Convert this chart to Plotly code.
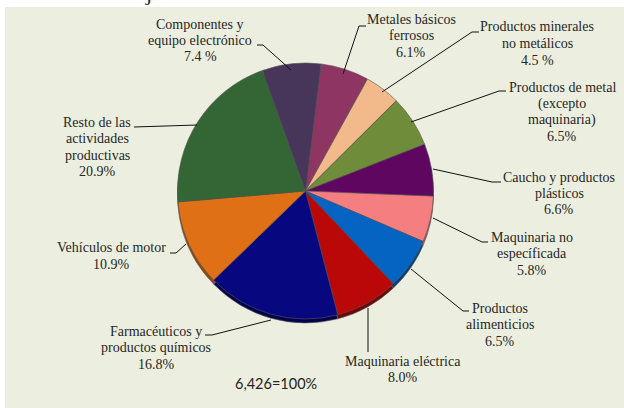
import plotly.graph_objects as go

categories = ["Metales básicos ferrosos", "Productos minerales no metálicos",
              "Productos de metal (excepto maquinaria)", "Caucho y productos plásticos",
              "Maquinaria no específicada", "Productos alimenticios",
              "Maquinaria eléctrica", "Farmacéuticos y productos químicos",
              "Vehículos de motor", "Resto de las actividades productivas",
              "Componentes y equipo electrónico"]
values = [6.1, 4.5, 6.5, 6.6, 5.8, 6.5, 8.0, 16.8, 10.9, 20.9, 7.4]
value_texts = ["6.1%", "4.5 %", "6.5%", "6.6%", "5.8%", "6.5%", "8.0%", "16.8%", "10.9%", "20.9%", "7.4 %"]
label_lines = [["Metales básicos", "ferrosos"], ["Productos minerales", "no metálicos"],
               ["Productos de metal", "(excepto", "maquinaria)"], ["Caucho y productos", "plásticos"],
               ["Maquinaria no", "específicada"], ["Productos", "alimenticios"],
               ["Maquinaria eléctrica"], ["Farmacéuticos y", "productos químicos"],
               ["Vehículos de motor"], ["Resto de las", "actividades", "productivas"],
               ["Componentes y", "equipo electrónico"]]
colors = ["#8E3563", "#F2B98B", "#6F8C3A", "#5E0660", "#F47E80", "#0563C1",
          "#BA0808", "#07077F", "#E07015", "#336535", "#47365A"]
shadow_colors = ["#5a2040", "#a07a5a", "#465a25", "#3c043d", "#a05254", "#033d7a",
                 "#700505", "#03034a", "#8e470d", "#1f3f21", "#2c2138"]
total_note = "6,426=100%"

W, H = 624, 408
CX, CY, R = 305.5, 191, 128
ROT = 7
LINE = 16.5

# first-line centre of each label, in pixels
label_pos = [(411, 19), (537, 27), (562, 87), (559, 177), (532, 237), (499.5, 308),
             (403, 361), (156, 331), (111, 248), (97, 122), (200, 24)]
# leader polylines, in pixels
leaders = [[(366, 26), (359, 26), (343, 74)], [(479, 32), (472, 32), (382, 92)],
           [(506, 91), (499, 91), (411, 122)], [(501, 182), (492, 182), (433, 169)],
           [(488, 242), (482, 242), (433, 218)], [(469, 311), (463, 311), (411, 269)],
           [(368, 352), (368, 308)], [(205, 335), (212, 335), (271, 320)],
           [(170, 253), (176, 253), (186, 244)], [(134, 127), (197, 125)],
           [(257, 45), (263, 45), (291, 70)]]

fig = go.Figure()
for cols, dy, line in [(shadow_colors, 4, "#5f5f5f"), (colors, 0, "#555555")]:
    fig.add_trace(go.Pie(
        labels=categories, values=values, sort=False, direction="clockwise",
        rotation=ROT, textinfo="none", hoverinfo="label+percent", showlegend=False,
        marker=dict(colors=cols, line=dict(color=line, width=0.6)),
        domain=dict(x=[(CX - R) / W, (CX + R) / W],
                    y=[1 - (CY + dy + R) / H, 1 - (CY + dy - R) / H]),
    ))

serif = dict(family="Liberation Serif", size=14, color="#262626")
for lines, val, (lx, ly) in zip(label_lines, value_texts, label_pos):
    for i, txt in enumerate(lines + [val]):
        fig.add_annotation(x=lx / W, y=1 - (ly + i * LINE) / H, xref="paper", yref="paper",
                           text=txt, showarrow=False, xanchor="center", yanchor="middle",
                           font=serif)
for pts in leaders:
    d = " ".join(("M" if i == 0 else "L") + f" {x/W} {1-y/H}" for i, (x, y) in enumerate(pts))
    fig.add_shape(type="path", xref="paper", yref="paper", path=d,
                  line=dict(color="#111111", width=1))

fig.add_annotation(x=276 / W, y=1 - 394 / H, xref="paper", yref="paper", text=total_note,
                   showarrow=False, font=dict(family="Lato", size=14.5, color="#222222"))
fig.add_annotation(x=67 / W, y=1, xref="paper", yref="paper", text="Porcentajes",
                   showarrow=False, yanchor="bottom", yshift=-7,
                   font=dict(family="Liberation Serif", size=22, color="#222222"))
fig.add_shape(type="rect", xref="paper", yref="paper", x0=5 / W, x1=1, y0=0, y1=1 - 7 / H,
              fillcolor="#ECEFDF", line_width=0, layer="below")
fig.update_layout(width=W, height=H, margin=dict(l=0, r=0, t=0, b=0),
                  paper_bgcolor="white", plot_bgcolor="white")
fig.write_html("out.html", config=dict(displayModeBar=False),
               post_script="document.body.style.margin='0';document.body.style.overflow='hidden';")
